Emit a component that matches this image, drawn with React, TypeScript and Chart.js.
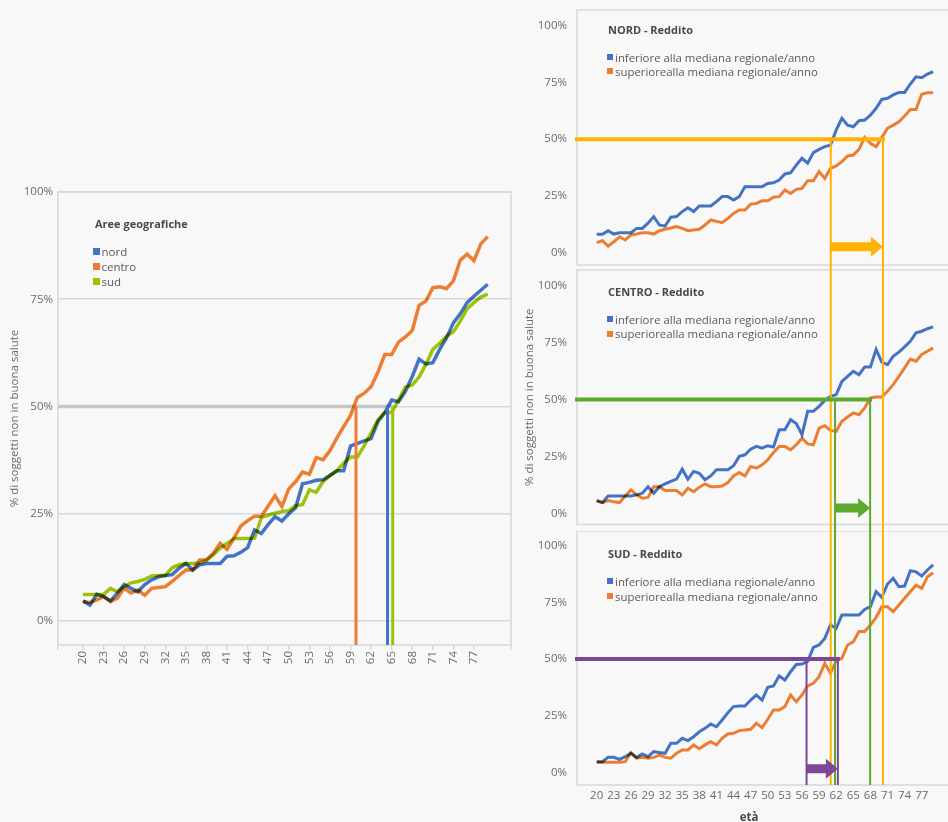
import React, { useEffect, useRef } from "react";
import { Chart, registerables } from "chart.js";

Chart.register(...registerables);
Chart.defaults.font.family = '"Open Sans", sans-serif';

// ---------- data ----------
const AGES = [
  20, 21, 22, 23, 24, 25, 26, 27, 28, 29,
  30, 31, 32, 33, 34, 35, 36, 37, 38, 39,
  40, 41, 42, 43, 44, 45, 46, 47, 48, 49,
  50, 51, 52, 53, 54, 55, 56, 57, 58, 59,
  60, 61, 62, 63, 64, 65, 66, 67, 68, 69,
  70, 71, 72, 73, 74, 75, 76, 77, 78, 79,
];
const X_TICKS = [20, 23, 26, 29, 32, 35, 38, 41, 44, 47, 50, 53, 56, 59, 62, 65, 68, 71, 74, 77];
const Y_TICKS = [0, 25, 50, 75, 100];

// left chart: aree geografiche
const NORD_ALL = [
  4.7, 3.7, 6.2, 5.7, 4.7, 6.5, 8.5, 7.6, 6.8, 8.5,
  9.6, 10.3, 10.6, 10.8, 12.3, 13.4, 11.9, 13.1, 13.4, 13.4,
  13.4, 15.1, 15.2, 16.0, 17.1, 21.2, 20.4, 22.5, 24.3, 23.3,
  25.0, 26.4, 32.0, 32.3, 32.8, 32.9, 33.9, 35.0, 35.0, 40.8,
  41.4, 42.0, 42.5, 46.5, 48.6, 51.5, 51.1, 53.5, 57.0, 61.0,
  59.9, 60.2, 63.3, 66.0, 69.5, 71.6, 74.2, 75.7, 77.1, 78.5,
];
const CENTRO_ALL = [
  4.5, 4.3, 4.9, 5.7, 4.5, 5.3, 7.6, 6.5, 7.2, 6.0,
  7.6, 7.8, 8.0, 9.2, 10.6, 11.9, 11.9, 14.2, 14.2, 15.8,
  18.1, 16.7, 19.3, 22.1, 23.4, 24.4, 24.4, 26.8, 29.2, 26.7,
  30.8, 32.5, 34.7, 34.2, 38.1, 37.6, 39.7, 42.6, 45.3, 47.9,
  52.1, 53.1, 54.6, 58.0, 62.1, 62.1, 65.0, 66.2, 67.7, 73.6,
  74.6, 77.7, 77.9, 77.5, 79.3, 84.1, 85.5, 84.0, 87.9, 89.6,
];
const SUD_ALL = [
  6.2, 6.2, 6.2, 6.2, 7.6, 6.8, 8.0, 8.9, 9.2, 9.7,
  10.5, 10.6, 10.6, 12.4, 13.1, 13.4, 13.4, 13.5, 14.2, 15.4,
  17.0, 18.1, 19.2, 19.2, 19.2, 19.3, 24.1, 24.7, 25.1, 25.5,
  25.7, 26.9, 27.1, 30.6, 30.0, 32.5, 33.9, 35.0, 36.8, 38.2,
  38.2, 40.9, 43.8, 46.9, 48.6, 48.6, 51.5, 54.5, 55.0, 56.9,
  59.8, 63.3, 64.7, 66.4, 67.4, 69.9, 72.8, 74.2, 75.5, 76.2,
];

// right panels: reddito (inferiore / superiore alla mediana)
const NORD_LOW = [
  8.1, 8.1, 9.7, 8.2, 8.8, 8.8, 8.8, 10.7, 10.7, 13.0,
  15.9, 12.2, 11.7, 15.6, 15.9, 18.1, 19.8, 18.1, 20.6, 20.6,
  20.6, 22.5, 24.7, 24.7, 23.2, 24.7, 29.1, 29.1, 29.1, 29.1,
  30.5, 30.8, 32.0, 34.7, 35.2, 38.6, 41.6, 39.4, 44.1, 45.5,
  46.7, 47.4, 54.0, 59.2, 56.2, 55.5, 58.1, 58.4, 60.6, 63.6,
  67.5, 68.0, 69.5, 70.6, 70.6, 74.3, 77.5, 77.1, 78.7, 79.7,
];
const NORD_HIGH = [
  4.4, 5.3, 2.9, 4.8, 7.0, 5.6, 7.8, 8.2, 8.8, 8.8,
  8.2, 9.7, 10.3, 10.9, 11.5, 10.7, 9.7, 10.0, 10.3, 12.2,
  14.4, 13.8, 13.2, 15.1, 17.3, 18.8, 18.8, 21.4, 21.7, 22.9,
  22.9, 24.4, 24.7, 27.6, 26.1, 27.9, 28.3, 31.7, 31.7, 35.7,
  32.7, 37.2, 38.2, 40.1, 42.6, 43.0, 45.5, 50.8, 48.2, 46.7,
  50.8, 54.8, 56.2, 57.7, 60.2, 63.1, 63.1, 69.8, 70.5, 70.5,
];
const CENTRO_LOW = [
  5.6, 4.7, 7.6, 7.6, 7.6, 7.6, 7.6, 8.1, 8.8, 11.7,
  8.8, 11.7, 12.9, 14.0, 15.0, 19.4, 15.0, 18.4, 17.6, 14.7,
  16.4, 19.1, 19.1, 19.1, 20.9, 25.0, 25.7, 28.2, 29.4, 28.6,
  29.7, 29.1, 36.7, 36.7, 41.1, 39.4, 34.5, 44.8, 44.8, 47.0,
  49.6, 51.4, 52.1, 58.0, 60.2, 62.4, 60.9, 64.3, 64.3, 72.0,
  66.4, 65.3, 69.0, 70.8, 73.1, 75.6, 79.3, 80.0, 81.1, 81.9,
];
const CENTRO_HIGH = [
  5.6, 4.7, 5.6, 5.1, 4.7, 7.6, 10.3, 8.1, 6.6, 7.0,
  11.7, 11.7, 10.0, 10.0, 10.0, 8.1, 11.0, 9.5, 11.5, 12.9,
  11.7, 11.7, 12.0, 13.5, 16.4, 17.9, 16.4, 20.6, 19.8, 21.3,
  23.5, 26.7, 29.4, 29.4, 27.9, 30.1, 33.0, 30.5, 30.1, 37.4,
  38.5, 36.4, 36.0, 40.4, 42.3, 44.1, 43.3, 46.3, 50.7, 51.1,
  51.1, 53.6, 56.5, 60.2, 63.9, 67.8, 66.8, 69.8, 71.2, 72.7,
];
const SUD_LOW = [
  4.7, 4.7, 6.6, 6.6, 5.7, 6.9, 8.4, 6.6, 8.1, 6.9,
  9.1, 8.7, 8.4, 12.8, 12.8, 15.0, 14.0, 15.7, 17.9, 19.4,
  21.3, 20.1, 23.1, 26.3, 29.0, 29.3, 29.3, 31.9, 34.1, 31.9,
  37.5, 38.1, 42.5, 40.7, 44.4, 47.6, 47.8, 49.0, 55.1, 56.2,
  59.1, 65.0, 63.5, 69.4, 69.4, 69.4, 69.4, 71.9, 73.1, 79.7,
  77.2, 83.1, 85.6, 81.9, 82.2, 89.0, 88.5, 86.6, 89.3, 91.5,
];
const SUD_HIGH = [
  4.4, 4.4, 4.4, 4.4, 4.4, 4.7, 8.7, 6.2, 6.6, 6.2,
  6.6, 7.6, 6.6, 6.2, 8.4, 9.9, 9.9, 12.1, 10.4, 12.1,
  13.5, 12.1, 15.0, 16.9, 17.2, 18.4, 18.7, 19.0, 21.6, 19.7,
  23.4, 27.5, 27.5, 29.0, 34.1, 31.2, 34.1, 38.1, 39.3, 42.2,
  48.1, 43.7, 49.3, 50.3, 56.2, 57.6, 62.1, 62.1, 65.0, 68.4,
  73.1, 73.1, 70.9, 73.8, 76.8, 79.7, 82.6, 81.2, 86.3, 88.1,
];

// ages at which the 50% threshold is reached
const THRESHOLD = 50;
const AREA_CROSS = [64.4, 59.8, 65.15]; // nord, centro, sud
const NORD_CROSS = [61.05, 70.2];
const CENTRO_CROSS = [61.8, 67.95];
const SUD_CROSS = [56.8, 62.3];
const ARROW_LEVEL = [2.6, 2.3, 1.6];

const AREA_LABELS = ["nord", "centro", "sud"];
const INCOME_LABELS = ["inferiore alla mediana regionale/anno", "superiorealla mediana regionale/anno"];
const PANEL_TITLES = ["NORD - Reddito", "CENTRO - Reddito", "SUD - Reddito"];

// ---------- styles ----------
const BG = "#f8f8f8";
const GRID = "#d8d8d8";
const TEXT = "#6b6b6b";
const LEGEND_TEXT = "#5a5a5a";
const TITLE_TEXT = "#4a4a4a";
const BLUE = "#4472C4";
const ORANGE = "#ED7D31";
const LIME = "#9DC20C";
const YELLOW = "#FFB300";
const GREEN = "#5BAA2C";
const PURPLE = "#7D4799";
const AREA_COLORS = [BLUE, ORANGE, LIME];
const MARK_COLORS = [YELLOW, GREEN, PURPLE];
const TICK_FONT = { size: 11.5 };

const xy = (vals: number[]) => AGES.map((a, i) => ({ x: a, y: vals[i] }));

const multiplyPlugin = {
  id: "multiplyBlend",
  beforeDatasetsDraw(chart: any) {
    chart.ctx.save();
    chart.ctx.globalCompositeOperation = "multiply";
  },
  afterDatasetsDraw(chart: any) {
    chart.ctx.restore();
  },
};

// ---------- left chart ----------
function buildLeft(): any {
  const XMIN = 16.35;
  const XMAX = 82.4;
  const framePlugin = {
    id: "leftFrame",
    beforeDatasetsDraw(chart: any) {
      const { ctx, chartArea: a, scales } = chart;
      ctx.save();
      ctx.strokeStyle = GRID;
      ctx.lineWidth = 1.5;
      ctx.strokeRect(a.left, a.top, a.right - a.left, a.bottom - a.top);
      const y50 = scales.y.getPixelForValue(THRESHOLD);
      const xEnd = scales.x.getPixelForValue(Math.max(...AREA_CROSS));
      ctx.strokeStyle = "#c6c6c6";
      ctx.lineWidth = 3.5;
      ctx.beginPath();
      ctx.moveTo(a.left, y50);
      ctx.lineTo(xEnd, y50);
      ctx.stroke();
      ctx.restore();
    },
  };
  const markPlugin = {
    id: "leftMarks",
    afterDatasetsDraw(chart: any) {
      const { ctx, chartArea: a, scales } = chart;
      const y50 = scales.y.getPixelForValue(THRESHOLD);
      ctx.save();
      ctx.lineWidth = 3;
      AREA_CROSS.forEach((age, i) => {
        const px = scales.x.getPixelForValue(age);
        ctx.strokeStyle = AREA_COLORS[i];
        ctx.beginPath();
        ctx.moveTo(px, y50);
        ctx.lineTo(px, a.bottom);
        ctx.stroke();
      });
      ctx.restore();
    },
  };
  return {
    type: "line",
    data: {
      datasets: [NORD_ALL, CENTRO_ALL, SUD_ALL].map((vals, i) => ({
        label: AREA_LABELS[i],
        data: xy(vals),
        borderColor: AREA_COLORS[i],
        backgroundColor: AREA_COLORS[i],
        borderWidth: 3.5,
        pointRadius: 0,
        tension: 0,
        fill: false,
      })),
    },
    options: {
      animation: false,
      responsive: false,
      maintainAspectRatio: false,
      layout: { padding: { top: 12, right: 9, left: 0, bottom: 0 } },
      plugins: { legend: { display: false }, tooltip: { enabled: false } },
      scales: {
        x: {
          type: "linear",
          min: XMIN,
          max: XMAX,
          afterBuildTicks: (ax: any) => {
            ax.ticks = [XMIN, ...X_TICKS, XMAX].map((v) => ({ value: v }));
          },
          ticks: {
            autoSkip: false,
            minRotation: 90,
            maxRotation: 90,
            padding: 1,
            color: TEXT,
            font: TICK_FONT,
            callback: (v: any) => (X_TICKS.includes(v) ? String(v) : ""),
          },
          grid: { drawOnChartArea: false, drawTicks: true, tickLength: 5, color: GRID, lineWidth: 1.5 },
          border: { display: false },
          afterFit: (s: any) => {
            s.height = 45;
            s.paddingLeft = 0;
            s.paddingRight = 0;
          },
        },
        y: {
          min: -5.6,
          max: 100,
          afterBuildTicks: (ax: any) => {
            ax.ticks = Y_TICKS.map((v) => ({ value: v }));
          },
          ticks: { padding: 5, color: TEXT, font: TICK_FONT, callback: (v: any) => v + "%" },
          grid: { color: GRID, lineWidth: 1.5, drawTicks: false },
          border: { display: false },
          title: {
            display: true,
            text: "% di soggetti non in buona salute",
            color: TEXT,
            font: { size: 11.5 },
            padding: { top: 8, bottom: 0 },
          },
          afterFit: (s: any) => {
            s.width = 58;
            s.paddingTop = 0;
            s.paddingBottom = 0;
          },
        },
      },
    },
    plugins: [framePlugin, multiplyPlugin, markPlugin],
  };
}

// ---------- right panels ----------
const PANEL_GEOM = [
  { top: 0, height: 267, padTop: 10, padBottom: 2, yMin: -5.42, yMax: 106.9 },
  { top: 267, height: 264, padTop: 3, padBottom: 6.5, yMin: -4.92, yMax: 106.9 },
  { top: 531, height: 291, padTop: 0, padBottom: 0, yMin: -5.6, yMax: 106.5 },
];
const PANEL_SERIES = [
  [NORD_LOW, NORD_HIGH],
  [CENTRO_LOW, CENTRO_HIGH],
  [SUD_LOW, SUD_HIGH],
];
const PANEL_CROSS = [NORD_CROSS, CENTRO_CROSS, SUD_CROSS];

function buildPanel(p: number): any {
  const g = PANEL_GEOM[p];
  const XMIN = 16.545;
  const XMAX = 81.61;
  const framePlugin = {
    id: "panelFrame" + p,
    beforeDatasetsDraw(chart: any) {
      const { ctx, chartArea: a } = chart;
      ctx.save();
      ctx.strokeStyle = GRID;
      ctx.lineWidth = 1.5;
      ctx.beginPath();
      ctx.moveTo(chart.width + 2, a.top);
      ctx.lineTo(a.left, a.top);
      ctx.lineTo(a.left, a.bottom);
      ctx.lineTo(chart.width + 2, a.bottom);
      ctx.stroke();
      ctx.restore();
    },
  };
  const markPlugin = {
    id: "panelMarks" + p,
    afterDatasetsDraw(chart: any) {
      const { ctx, chartArea: a, scales } = chart;
      const xs = scales.x;
      const ys = scales.y;
      const bottom = p === 2 ? a.bottom : chart.height;
      ctx.save();
      ctx.lineWidth = 2;
      for (let k = 0; k < p; k++) {
        ctx.strokeStyle = MARK_COLORS[k];
        PANEL_CROSS[k].forEach((age) => {
          const px = xs.getPixelForValue(age);
          ctx.beginPath();
          ctx.moveTo(px, 0);
          ctx.lineTo(px, bottom);
          ctx.stroke();
        });
      }
      const [a1, a2] = PANEL_CROSS[p];
      const x1 = xs.getPixelForValue(a1);
      const x2 = xs.getPixelForValue(a2);
      const y50 = ys.getPixelForValue(THRESHOLD);
      ctx.strokeStyle = MARK_COLORS[p];
      ctx.fillStyle = MARK_COLORS[p];
      [x1, x2].forEach((px) => {
        ctx.beginPath();
        ctx.moveTo(px, y50);
        ctx.lineTo(px, bottom);
        ctx.stroke();
      });
      ctx.lineWidth = 4;
      ctx.beginPath();
      ctx.moveTo(a.left - 2, y50);
      ctx.lineTo(x2 + 2, y50);
      ctx.stroke();
      const ya = ys.getPixelForValue(ARROW_LEVEL[p]);
      const head = 12;
      const half = 10;
      const shaft = 4.5;
      ctx.beginPath();
      ctx.moveTo(x1, ya - shaft);
      ctx.lineTo(x2 - head, ya - shaft);
      ctx.lineTo(x2 - head, ya - half);
      ctx.lineTo(x2, ya);
      ctx.lineTo(x2 - head, ya + half);
      ctx.lineTo(x2 - head, ya + shaft);
      ctx.lineTo(x1, ya + shaft);
      ctx.closePath();
      ctx.fill();
      ctx.restore();
    },
  };
  return {
    type: "line",
    data: {
      datasets: PANEL_SERIES[p].map((vals, i) => ({
        label: INCOME_LABELS[i],
        data: xy(vals),
        borderColor: i === 0 ? BLUE : ORANGE,
        backgroundColor: i === 0 ? BLUE : ORANGE,
        borderWidth: 3,
        pointRadius: 0,
        tension: 0,
        fill: false,
      })),
    },
    options: {
      animation: false,
      responsive: false,
      maintainAspectRatio: false,
      layout: { padding: { top: g.padTop, bottom: g.padBottom, left: 0, right: 0 } },
      plugins: { legend: { display: false }, tooltip: { enabled: false } },
      scales: {
        x: {
          type: "linear",
          min: XMIN,
          max: XMAX,
          display: p === 2,
          afterBuildTicks: (ax: any) => {
            ax.ticks = X_TICKS.map((v) => ({ value: v }));
          },
          ticks: {
            autoSkip: false,
            minRotation: 0,
            maxRotation: 0,
            padding: 4,
            color: TEXT,
            font: TICK_FONT,
            callback: (v: any) => String(v),
          },
          grid: { display: false, drawTicks: false },
          border: { display: false },
          afterFit: (s: any) => {
            s.height = p === 2 ? 37 : 0;
            s.paddingLeft = 0;
            s.paddingRight = 0;
          },
        },
        y: {
          min: g.yMin,
          max: g.yMax,
          afterBuildTicks: (ax: any) => {
            ax.ticks = Y_TICKS.map((v) => ({ value: v }));
          },
          ticks: { padding: 10, color: TEXT, font: TICK_FONT, callback: (v: any) => v + "%" },
          grid: { display: false, drawTicks: false },
          border: { display: false },
          title: {
            display: p === 1,
            text: "% di soggetti non in buona salute",
            color: TEXT,
            font: { size: 11.5 },
            padding: { top: 3, bottom: 0 },
          },
          afterFit: (s: any) => {
            s.width = 57;
            s.paddingTop = 0;
            s.paddingBottom = 0;
          },
        },
      },
    },
    plugins: [framePlugin, multiplyPlugin, markPlugin],
  };
}

function ChartBox(props: { left: number; top: number; width: number; height: number; build: () => any }) {
  const ref = useRef<HTMLCanvasElement>(null);
  useEffect(() => {
    const chart = new Chart(ref.current as HTMLCanvasElement, props.build());
    return () => chart.destroy();
  }, []);
  return (
    <canvas
      ref={ref}
      width={props.width}
      height={props.height}
      style={{ position: "absolute", left: props.left, top: props.top, width: props.width, height: props.height }}
    />
  );
}

function Text(props: { x: number; cy: number; size: number; bold?: boolean; color: string; children: any; center?: boolean }) {
  const lh = Math.round(props.size * 1.3);
  return (
    <div
      style={{
        position: "absolute",
        left: props.center ? props.x - 100 : props.x,
        width: props.center ? 200 : undefined,
        textAlign: props.center ? "center" : "left",
        top: props.cy - lh / 2,
        lineHeight: lh + "px",
        fontSize: props.size,
        fontWeight: props.bold ? 700 : 400,
        color: props.color,
        whiteSpace: "nowrap",
      }}
    >
      {props.children}
    </div>
  );
}

function Swatch(props: { x: number; cy: number; size: number; color: string }) {
  return (
    <div
      style={{
        position: "absolute",
        left: props.x,
        top: props.cy - props.size / 2,
        width: props.size,
        height: props.size,
        background: props.color,
      }}
    />
  );
}

const LEFT_LEGEND_Y = [251, 266, 281.5];
const PANEL_TITLE_Y = [30, 292, 554];
const PANEL_LEGEND_Y = [
  [57, 71],
  [319, 333.5],
  [581, 596],
];

export default function App() {
  return (
    <div
      style={{
        position: "absolute",
        left: 0,
        top: 0,
        width: 948,
        height: 822,
        overflow: "hidden",
        background: BG,
        fontFamily: '"Open Sans", sans-serif',
      }}
    >
      <ChartBox left={0} top={180} width={520} height={510} build={buildLeft} />
      {PANEL_GEOM.map((g, p) => (
        <ChartBox key={p} left={520} top={g.top} width={428} height={g.height} build={() => buildPanel(p)} />
      ))}

      <Text x={95} cy={224} size={11} bold color={TITLE_TEXT}>
        Aree geografiche
      </Text>
      {AREA_LABELS.map((lab, i) => (
        <React.Fragment key={lab}>
          <Swatch x={92.5} cy={LEFT_LEGEND_Y[i]} size={7} color={AREA_COLORS[i]} />
          <Text x={101.5} cy={LEFT_LEGEND_Y[i]} size={11.5} color={LEGEND_TEXT}>
            {lab}
          </Text>
        </React.Fragment>
      ))}

      {PANEL_TITLES.map((t, p) => (
        <React.Fragment key={t}>
          <Text x={608} cy={PANEL_TITLE_Y[p]} size={11} bold color={TITLE_TEXT}>
            {t}
          </Text>
          {INCOME_LABELS.map((lab, i) => (
            <React.Fragment key={lab}>
              <Swatch x={606.5} cy={PANEL_LEGEND_Y[p][i]} size={6} color={i === 0 ? BLUE : ORANGE} />
              <Text x={615} cy={PANEL_LEGEND_Y[p][i]} size={11.4} color={LEGEND_TEXT}>
                {lab}
              </Text>
            </React.Fragment>
          ))}
        </React.Fragment>
      ))}

      <Text x={749} cy={816} size={11.5} bold color={TITLE_TEXT} center>
        età
      </Text>
    </div>
  );
}
